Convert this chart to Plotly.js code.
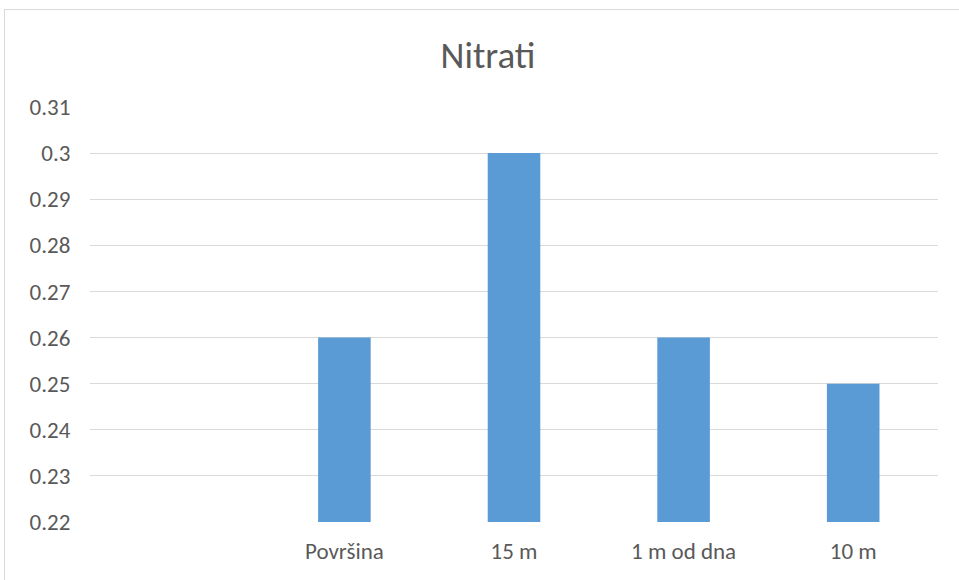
<!DOCTYPE html>
<html>
<head>
<meta charset="utf-8">
<script src="https://cdn.plot.ly/plotly-3.0.1.min.js"></script>
<style>
  html, body { margin: 0; padding: 0; background: #fff; }
  #wrap { position: relative; width: 959px; height: 580px; overflow: hidden; }
  #frame { position: absolute; left: 4px; top: 9px; width: 1000px; height: 1000px; border: 1px solid #d9d9d9; box-sizing: border-box; pointer-events: none; }
  #chart { position: absolute; left: 0; top: 0; width: 959px; height: 580px; }
</style>
</head>
<body>
<div id="wrap">
  <div id="chart"></div>
  <div id="frame"></div>
</div>
<script>
const categories = [" ", "Površina", "15 m", "1 m od dna", "10 m"];
const values = [null, 0.26, 0.30, 0.26, 0.25];
const yTicks = [0.22, 0.23, 0.24, 0.25, 0.26, 0.27, 0.28, 0.29, 0.30, 0.31];
const yTickLabels = ["0.22", "0.23", "0.24", "0.25", "0.26", "0.27", "0.28", "0.29", "0.3", "0.31"];
const chartTitle = "Nitrati";

const fontFam = "Carlito, Lato, 'Open Sans', sans-serif";

Plotly.newPlot("chart", [{
  type: "bar",
  x: categories,
  y: values,
  marker: { color: "#5b9bd5" },
  hoverinfo: "x+y"
}], {
  width: 959,
  height: 580,
  paper_bgcolor: "rgba(0,0,0,0)",
  plot_bgcolor: "rgba(0,0,0,0)",
  margin: { l: 90, r: 21, t: 107, b: 58 },
  bargap: 0.69,
  showlegend: false,
  title: {
    text: chartTitle,
    font: { family: fontFam, size: 37, color: "#595959", weight: 300 },
    x: 488 / 959, xanchor: "center", xref: "container",
    y: 1 - 55 / 580, yanchor: "middle", yref: "container"
  },
  xaxis: {
    type: "category",
    categoryorder: "array",
    categoryarray: categories,
    showgrid: false,
    showline: false,
    zeroline: false,
    ticks: "outside",
    ticklen: 8,
    tickcolor: "rgba(0,0,0,0)",
    tickfont: { family: fontFam, size: 23, color: "#595959" }
  },
  yaxis: {
    range: [0.22, 0.31],
    tickvals: yTicks,
    ticktext: yTickLabels,
    showgrid: true,
    gridcolor: "#d9d9d9",
    gridwidth: 1,
    zeroline: false,
    showline: false,
    ticks: "outside",
    ticklen: 14,
    tickcolor: "rgba(0,0,0,0)",
    tickfont: { family: fontFam, size: 23, color: "#595959" }
  }
}, { displayModeBar: false, staticPlot: true });
</script>
</body>
</html>
